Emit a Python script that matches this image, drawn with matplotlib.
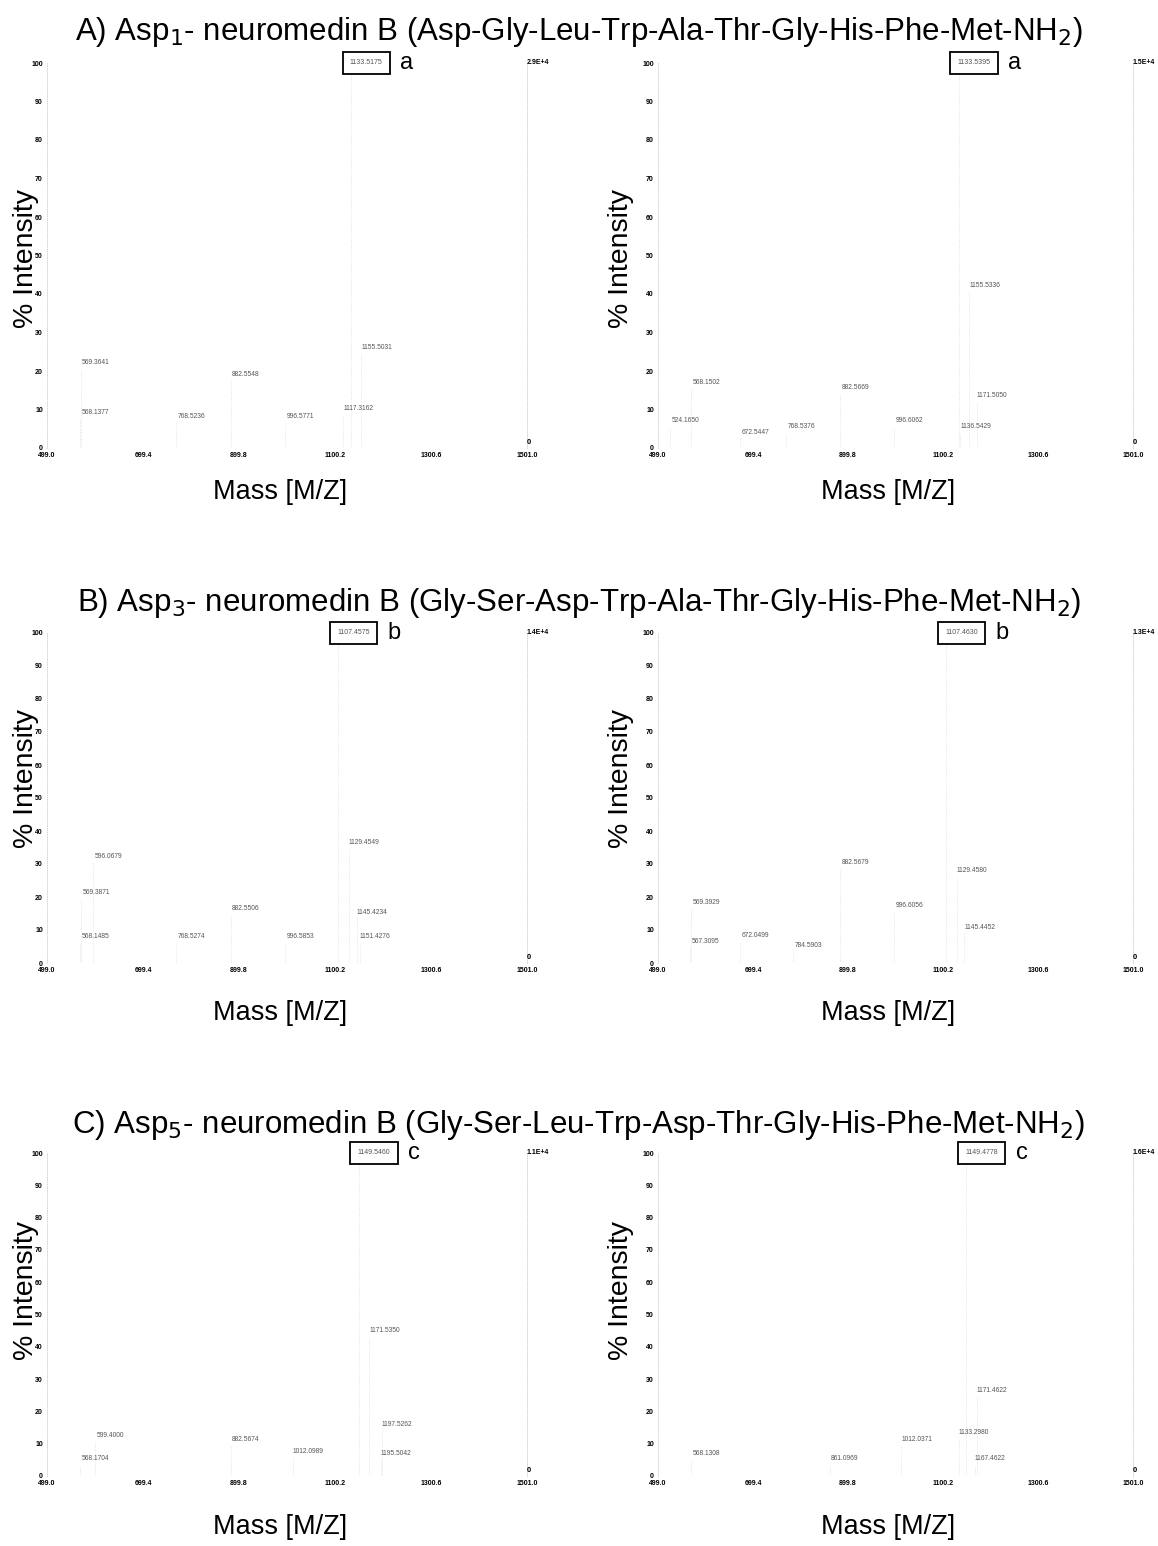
import matplotlib.pyplot as plt
import numpy as np

plt.rcParams['font.family'] = ['Liberation Sans', 'DejaVu Sans']

# panel titles
titles = ['A) Asp$_1$- neuromedin B (Asp-Gly-Leu-Trp-Ala-Thr-Gly-His-Phe-Met-NH$_2$)',
          'B) Asp$_3$- neuromedin B (Gly-Ser-Asp-Trp-Ala-Thr-Gly-His-Phe-Met-NH$_2$)',
          'C) Asp$_5$- neuromedin B (Gly-Ser-Leu-Trp-Asp-Thr-Gly-His-Phe-Met-NH$_2$)']
box_letters = ['a', 'b', 'c']

# base peaks (100 %) for each spectrum: A-left, A-right, B-left, B-right, C-left, C-right
base_mass = [1133.5175, 1133.5395, 1107.4575, 1107.4630, 1149.5460, 1149.4778]
max_counts = ['2.9E+4', '1.5E+4', '1.4E+4', '1.3E+4', '1.1E+4', '1.6E+4']

# labelled peaks (m/z, % intensity)
mz_a1 = [568.1377, 569.3641, 768.5236, 882.5548, 996.5771, 1117.3162, 1155.5031]
in_a1 = [7.5, 20.5, 6.5, 17.5, 6.5, 8.5, 24.5]
mz_a2 = [524.1650, 568.1502, 672.5447, 768.5376, 882.5669, 996.6062, 1136.5429, 1155.5336, 1171.5050]
in_a2 = [5.5, 15.5, 2.5, 4.0, 14.0, 5.5, 4.0, 40.5, 12.0]
mz_b1 = [568.1485, 569.3871, 596.0679, 768.5274, 882.5506, 996.5853, 1129.4549, 1145.4234, 1151.4276]
in_b1 = [6.0, 19.5, 30.5, 6.0, 14.5, 6.0, 34.5, 13.5, 6.0]
mz_b2 = [567.3095, 569.3929, 672.0499, 784.5903, 882.5679, 996.6056, 1129.4580, 1145.4452]
in_b2 = [4.5, 16.5, 6.5, 3.5, 28.5, 15.5, 26.0, 9.0]
mz_c1 = [568.1704, 599.4000, 882.5674, 1012.0989, 1171.5350, 1195.5042, 1197.5262]
in_c1 = [3.5, 10.5, 9.5, 5.5, 43.0, 5.0, 14.0]
mz_c2 = [568.1308, 861.0969, 1012.0371, 1133.2980, 1167.4622, 1171.4622]
in_c2 = [5.0, 3.5, 9.5, 11.5, 3.5, 24.5]

peaks_mz = [mz_a1, mz_a2, mz_b1, mz_b2, mz_c1, mz_c2]
peaks_in = [in_a1, in_a2, in_b1, in_b2, in_c1, in_c2]

x_ticks = [499.0, 699.4, 899.8, 1100.2, 1300.6, 1501.0]

W, H = 1158, 1546
fig = plt.figure(figsize=(W / 100, H / 100), dpi=100)

cols = [(47, 527), (658, 1133)]
rows = [(63, 448), (633, 963), (1153, 1476)]
title_y = [32, 603, 1125]
ylab_y = [258, 778, 1290]
xlab_y = [492, 1013, 1527]
xlab_x = [280, 888]
ylab_x = [26, 621]

for r in range(3):
    fig.text(0.5, 1 - title_y[r] / H, titles[r], ha='center', va='center', fontsize=22.5)
    for c in range(2):
        k = 2 * r + c
        x0, x1 = cols[c]
        ytop, ybot = rows[r]
        ax = fig.add_axes([x0 / W, 1 - ybot / H, (x1 - x0) / W, (ybot - ytop) / H])
        ax.set_xlim(x_ticks[0], x_ticks[-1])
        ax.set_ylim(0, 100)

        # faint spectrum sticks
        mz = [base_mass[k]] + peaks_mz[k]
        it = [100] + peaks_in[k]
        ax.vlines(mz, 0, it, colors='#dddddd', linewidth=0.6, linestyles=':')

        for m, v in zip(peaks_mz[k], peaks_in[k]):
            ax.annotate('%.4f' % m, (m, v), xytext=(11, 2), textcoords='offset points',
                        ha='center', va='bottom', fontsize=4.8, color='#555555')

        ax.annotate('%.4f' % base_mass[k], (base_mass[k], 100), xytext=(11, 0),
                    textcoords='offset points', ha='center', va='center', fontsize=5,
                    color='#555555',
                    bbox=dict(boxstyle='square,pad=1.05', fc='white', ec='black', lw=1.3))
        ax.annotate(box_letters[r], (base_mass[k], 100), xytext=(40, 0),
                    textcoords='offset points', ha='center', va='center', fontsize=17)

        ax.text(x_ticks[-1], 100, max_counts[k], ha='left', va='center', fontsize=5,
                fontweight='bold')
        ax.text(x_ticks[-1], 0.5, '0', ha='left', va='bottom', fontsize=5.5,
                fontweight='bold')

        ax.set_xticks(x_ticks)
        ax.set_xticklabels(['%.1f' % t for t in x_ticks], fontsize=5, fontweight='bold')
        ax.set_yticks(np.arange(0, 101, 10))
        ax.set_yticklabels([str(t) for t in range(0, 101, 10)], fontsize=5, fontweight='bold')
        ax.tick_params(length=0, pad=3)

        for s in ['top', 'bottom']:
            ax.spines[s].set_visible(False)
        for s in ['left', 'right']:
            ax.spines[s].set_linestyle(':')
            ax.spines[s].set_color('#d0d0d0')
            ax.spines[s].set_linewidth(0.6)
        ax.axhline(0, color='#d5d5d5', lw=0.6, ls=':')
        ax.patch.set_alpha(0)

        fig.text(ylab_x[c] / W, 1 - ylab_y[r] / H, '% Intensity', rotation=90,
                 ha='center', va='center', fontsize=20.5)
        fig.text(xlab_x[c] / W, 1 - xlab_y[r] / H, 'Mass [M/Z]', ha='center',
                 va='center', fontsize=19.5)

fig.savefig('out.png', dpi=100)
